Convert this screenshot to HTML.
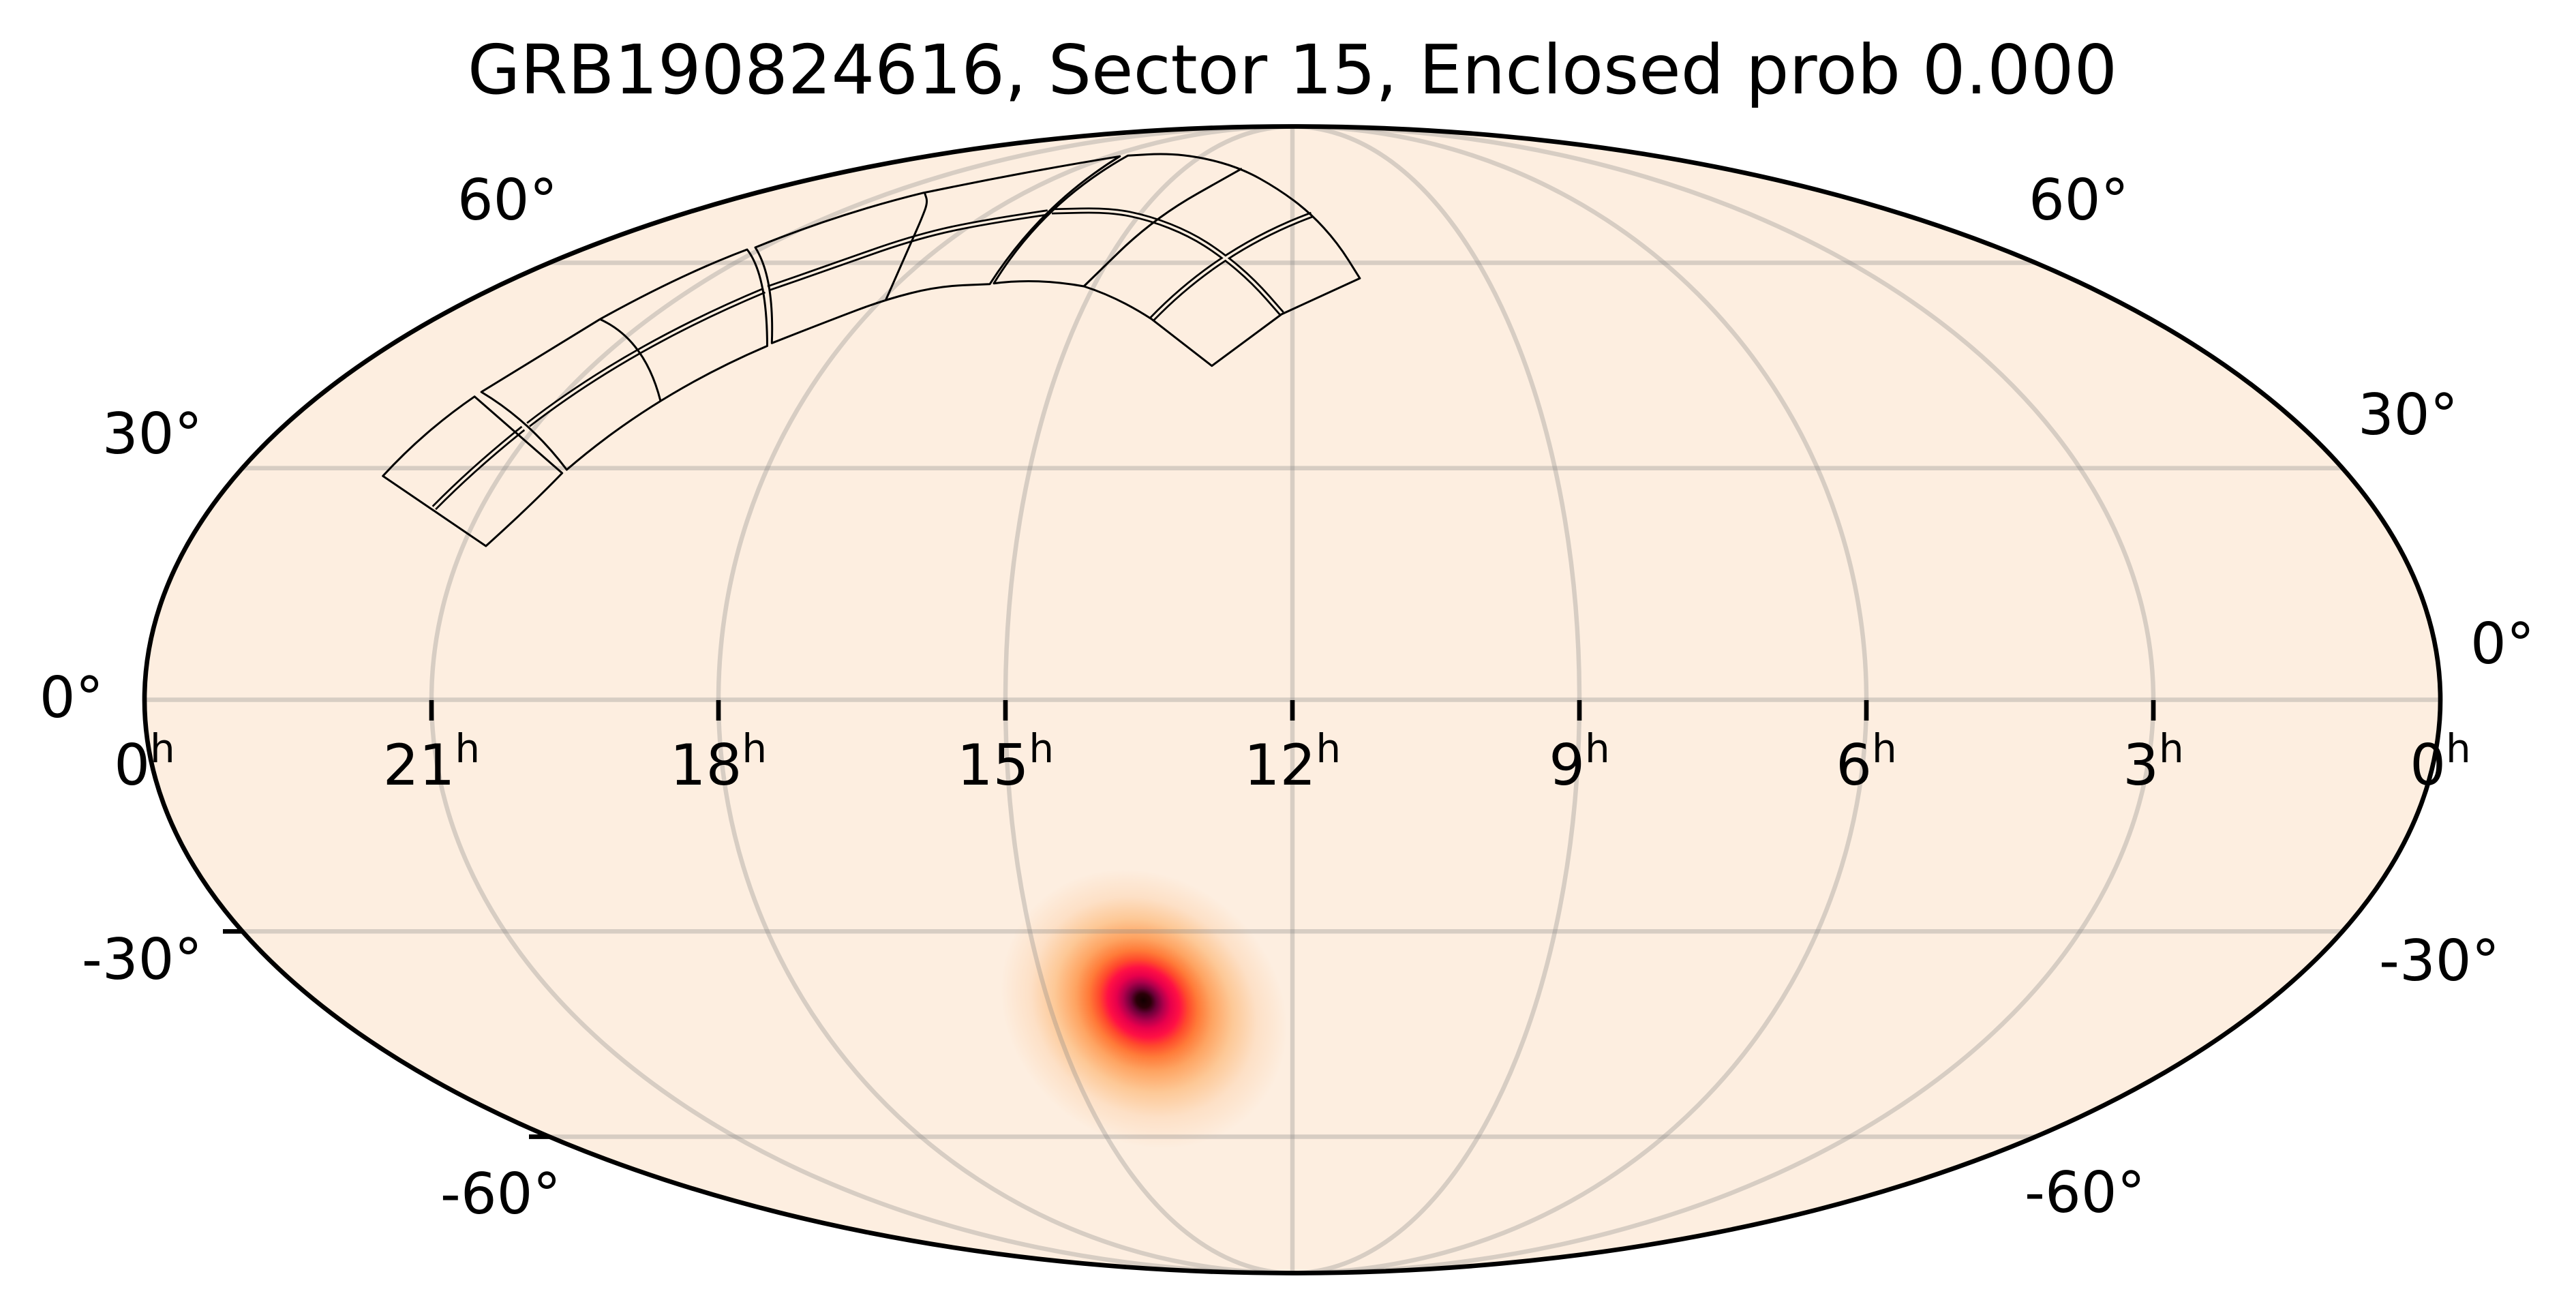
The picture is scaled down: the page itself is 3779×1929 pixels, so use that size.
<!DOCTYPE html>
<html>
<head>
<meta charset="utf-8">
<style>
  html,body{margin:0;padding:0;background:#fff;}
  svg{display:block;}
  text{font-family:"DejaVu Sans","Liberation Sans",sans-serif;fill:#000;}
</style>
</head>
<body>
<svg width="3779" height="1929" viewBox="0 0 3779 1929" xmlns="http://www.w3.org/2000/svg">
  <rect x="0" y="0" width="3779" height="1929" fill="#ffffff"/>
  <defs>
    <radialGradient id="blob" gradientUnits="userSpaceOnUse" cx="1678" cy="1480" r="205" fx="1670" fy="1470" gradientTransform="translate(1678 1480) rotate(40) scale(1.08 0.94) translate(-1678 -1480)">
      <stop offset="0" stop-color="#120000"/>
      <stop offset="0.05" stop-color="#2a0008"/>
      <stop offset="0.09" stop-color="#6a0038"/>
      <stop offset="0.14" stop-color="#b0004c"/>
      <stop offset="0.19" stop-color="#e8004c"/>
      <stop offset="0.25" stop-color="#ff1044"/>
      <stop offset="0.31" stop-color="#ff4a2c"/>
      <stop offset="0.38" stop-color="#ff7a38"/>
      <stop offset="0.48" stop-color="#fea462"/>
      <stop offset="0.62" stop-color="#fdc896"/>
      <stop offset="0.79" stop-color="#fde0c6"/>
      <stop offset="1" stop-color="#fdeee0"/>
    </radialGradient>
  </defs>

  <!-- sky background -->
  <ellipse cx="1896" cy="1026.5" rx="1684" ry="841" fill="#fdeee0"/>

  <!-- probability blob -->
  <circle cx="1678" cy="1480" r="225" fill="url(#blob)"/>

  <!-- gridlines -->
  <g fill="none" stroke="#808080" stroke-opacity="0.3" stroke-width="6.5">
    <ellipse cx="1896" cy="1026.5" rx="421" ry="841"/>
    <ellipse cx="1896" cy="1026.5" rx="842" ry="841"/>
    <ellipse cx="1896" cy="1026.5" rx="1263" ry="841"/>
    <line x1="1896" y1="185.5" x2="1896" y2="1867.5"/>
    <line x1="212" y1="1026.5" x2="3580" y2="1026.5"/>
    <line x1="355.5" y1="686.7" x2="3436.5" y2="686.7"/>
    <line x1="355.5" y1="1366.3" x2="3436.5" y2="1366.3"/>
    <line x1="805.9" y1="385.5" x2="2986.1" y2="385.5"/>
    <line x1="805.9" y1="1667.5" x2="2986.1" y2="1667.5"/>
  </g>

  <!-- footprint: double seams -->
  <g fill="none" stroke="#000" stroke-width="9" stroke-linecap="butt" stroke-linejoin="round">
    <path d="M636.9,745 Q694.25,686.75 767.4,628.3"/>
    <path d="M775,623 Q922.65,508.9 1121.3,426"/>
    <path d="M1127,423 L1172.2,407.35 Q1217.4,391.7 1276.05,370.85 Q1334.7,350 1384.6,338.35 Q1434.5,326.7 1537.2,311.7"/>
    <path d="M1543,310 L1585.5,309 Q1628,308 1657.4,314 Q1686.8,320 1716.15,331.65 Q1745.5,343.3 1768.95,358.3 Q1792.4,373.3 1815.9,393.3 Q1839.4,413.3 1859.9,436.65 L1880.4,460"/>
    <path d="M1924.5,315 Q1789.5,364.95 1689.7,468.3"/>
  </g>
  <g fill="none" stroke="#fdeee0" stroke-width="3.5" stroke-linecap="butt" stroke-linejoin="round">
    <path d="M636.9,745 Q694.25,686.75 767.4,628.3"/>
    <path d="M775,623 Q922.65,508.9 1121.3,426"/>
    <path d="M1127,423 L1172.2,407.35 Q1217.4,391.7 1276.05,370.85 Q1334.7,350 1384.6,338.35 Q1434.5,326.7 1537.2,311.7"/>
    <path d="M1543,310 L1585.5,309 Q1628,308 1657.4,314 Q1686.8,320 1716.15,331.65 Q1745.5,343.3 1768.95,358.3 Q1792.4,373.3 1815.9,393.3 Q1839.4,413.3 1859.9,436.65 L1880.4,460"/>
    <path d="M1924.5,315 Q1789.5,364.95 1689.7,468.3"/>
  </g>

  <!-- footprint: outlines and single seams -->
  <g fill="none" stroke="#000" stroke-width="3" stroke-linejoin="round">
    <!-- camera 1 -->
    <path d="M561.7,698.3 Q621,633.4 696.2,581.7 L824.7,694 Q777.8,742.5 712.8,801 Z"/>
    <!-- camera 2 -->
    <path d="M706.1,575 L880.1,468.3 Q997.95,402.85 1096,366 Q1125.25,403.25 1125.5,507.5 Q959.55,578.35 831.4,689 Q777.85,618 706.1,575 Z"/>
    <path d="M880.1,468.3 Q946.2,498.3 969,588.3"/>
    <!-- camera 3 -->
    <path d="M1108,363 Q1230.4,313.15 1355.2,282.7 L1364,281 Q1506.4,251.45 1642.8,229.3 Q1526.95,300.4 1452.1,416.7 L1413.95,418.35 Q1375.8,420 1336.2,430 Q1296.6,440 1257,455 Q1217.4,470 1174.85,486.65 L1132.3,503.3 Q1135.85,406.85 1108,363 Z"/>
    <path d="M1356.4,282.7 L1358.75,289.7 Q1361.1,296.7 1356.7,308.35 Q1352.3,320 1346.45,333.35 Q1340.6,346.7 1331.8,366.7 Q1323,386.7 1311.25,413.35 L1299.5,440"/>
    <!-- camera 4 -->
    <path d="M1654.5,228.3 L1682.4,226.65 Q1710.3,225 1736.7,227.85 Q1763.1,230.7 1792.45,239 Q1821.8,247.3 1848.2,262 Q1874.6,276.7 1898.05,294.2 Q1921.5,311.7 1942.05,334.2 Q1962.6,356.7 1978.75,382.5 L1994.9,408.3 L1880,461 L1777.8,536.7 L1689.7,468.3 Q1639.95,435.85 1590,420 Q1521,407.55 1458,415.7 Q1529.75,298 1654.5,228.3 Z"/>
    <path d="M1821.8,247.3 L1757.25,283.65 Q1692.7,320 1641.35,370 L1590,420"/>
  </g>

  <!-- border -->
  <ellipse cx="1896" cy="1026.5" rx="1684" ry="841" fill="none" stroke="#000" stroke-width="6.7"/>

  <!-- ticks -->
  <g stroke="#000" stroke-width="6.7">
    <line x1="633" y1="1027" x2="633" y2="1057"/>
    <line x1="1054" y1="1027" x2="1054" y2="1057"/>
    <line x1="1475" y1="1027" x2="1475" y2="1057"/>
    <line x1="1896" y1="1027" x2="1896" y2="1057"/>
    <line x1="2317" y1="1027" x2="2317" y2="1057"/>
    <line x1="2738" y1="1027" x2="2738" y2="1057"/>
    <line x1="3159" y1="1027" x2="3159" y2="1057"/>
    <line x1="327" y1="1366.3" x2="357" y2="1366.3"/>
    <line x1="776" y1="1667.5" x2="806" y2="1667.5"/>
  </g>

  <!-- title -->
  <text x="1896" y="137" font-size="100" text-anchor="middle">GRB190824616, Sector 15, Enclosed prob 0.000</text>

  <!-- RA labels -->
  <g font-size="83" text-anchor="middle">
    <text x="212" y="1151">0<tspan font-size="58" dy="-33">h</tspan></text>
    <text x="633" y="1151">21<tspan font-size="58" dy="-33">h</tspan></text>
    <text x="1054" y="1151">18<tspan font-size="58" dy="-33">h</tspan></text>
    <text x="1475" y="1151">15<tspan font-size="58" dy="-33">h</tspan></text>
    <text x="1896" y="1151">12<tspan font-size="58" dy="-33">h</tspan></text>
    <text x="2317" y="1151">9<tspan font-size="58" dy="-33">h</tspan></text>
    <text x="2738" y="1151">6<tspan font-size="58" dy="-33">h</tspan></text>
    <text x="3159" y="1151">3<tspan font-size="58" dy="-33">h</tspan></text>
    <text x="3580" y="1151">0<tspan font-size="58" dy="-33">h</tspan></text>
  </g>

  <!-- Dec labels left -->
  <g font-size="83" text-anchor="end">
    <text x="152" y="1052">0°</text>
    <text x="297" y="665">30°</text>
    <text x="818" y="322">60°</text>
    <text x="297" y="1436">-30°</text>
    <text x="823" y="1780">-60°</text>
  </g>
  <!-- Dec labels right -->
  <g font-size="83" text-anchor="start">
    <text x="3624" y="973">0°</text>
    <text x="3459" y="637">30°</text>
    <text x="2976" y="322">60°</text>
    <text x="3490" y="1438">-30°</text>
    <text x="2970" y="1778">-60°</text>
  </g>
</svg>
</body>
</html>
